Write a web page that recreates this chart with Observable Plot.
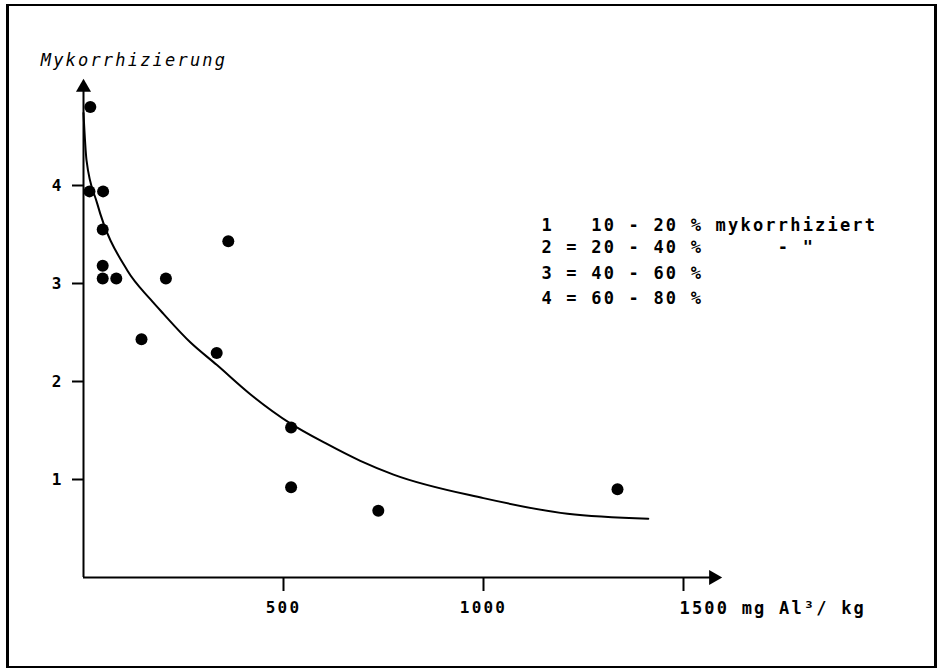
<!DOCTYPE html>
<html><head><meta charset="utf-8">
<script src="https://cdn.jsdelivr.net/npm/d3@7"></script>
<script src="https://cdn.jsdelivr.net/npm/@observablehq/plot@0.6"></script>
<style>
html,body{margin:0;padding:0;background:#fff;}
#wrap{position:relative;width:940px;height:669px;}
#frame{position:absolute;left:6px;top:4px;width:925px;height:660px;border-left:3px solid #000;border-top:2px solid #000;border-right:3px solid #000;border-bottom:2px solid #000;pointer-events:none;box-sizing:content-box;}
svg text{white-space:pre;letter-spacing:2.2px;}
</style></head><body>
<div id="wrap"><div id="frame"></div></div>
<script>
// Measured points: Al content (mg/kg) vs. Mykorrhizierung class
const alContent = [17, 15, 49, 48, 48, 48, 82, 206, 362, 333, 145, 519, 519, 737, 1335];
const mycorrhiza = [4.80, 3.94, 3.94, 3.55, 3.18, 3.05, 3.05, 3.05, 3.43, 2.29, 2.43, 1.53, 0.92, 0.68, 0.90];

// Fitted curve
const curveX = [0, 7.5, 34, 110, 167, 200, 267, 333, 417, 518, 605, 692, 775, 1000, 1210, 1412];
const curveY = [4.74, 4.26, 3.82, 3.13, 2.84, 2.69, 2.40, 2.17, 1.87, 1.57, 1.37, 1.19, 1.05, 0.81, 0.65, 0.60];

const yTicks = [1, 2, 3, 4];
const xTicks = [500, 1000, 1500];
const yLabel = "Mykorrhizierung";
const xUnit = "1500 mg Al³/ kg";
const legendLines = [
  "1   10 - 20 % mykorrhiziert",
  "2 = 20 - 40 %      - \"",
  "3 = 40 - 60 %",
  "4 = 60 - 80 %"
];

const points = alContent.map((x, i) => ({x, y: mycorrhiza[i]}));
const curve = curveX.map((x, i) => ({x, y: curveY[i]}));
const legendYs = [3.59, 3.37, 3.10, 2.85];
const legend = legendLines.map((t, i) => ({t, y: legendYs[i]}));

const chart = Plot.plot({
  width: 940,
  height: 669,
  marginLeft: 83,
  marginRight: 217,
  marginTop: 87,
  marginBottom: 92,
  x: {domain: [0, 1600]},
  y: {domain: [0, 5]},
  style: {fontFamily: "'DejaVu Sans Mono', monospace", background: "white", color: "black"},
  marks: [
    Plot.axisY(yTicks, {tickSize: 11, tickPadding: 9, fontSize: 16, fontWeight: "bold", label: null, strokeWidth: 2,
      tickFormat: d => String(d)}),
    Plot.axisX(xTicks, {tickSize: 14, tickPadding: 10, fontSize: 16, fontWeight: "bold", label: null, strokeWidth: 2,
      tickFormat: d => d === 1500 ? "" : String(d)}),
    Plot.ruleY([0], {x1: 0, x2: 1575, strokeWidth: 2}),
    Plot.ruleX([0], {y1: 0, y2: 5.0, strokeWidth: 2}),
    Plot.dot([{x: 0, y: 5.0}], {x: "x", y: "y", symbol: "triangle", r: 5.6, fill: "black", stroke: "none"}),
    Plot.dot([{x: 1575, y: 0}], {x: "x", y: "y", symbol: "triangle", r: 5.6, fill: "black", stroke: "none", rotate: 90}),
    Plot.line(curve, {x: "x", y: "y", curve: "monotone-x", strokeWidth: 2, stroke: "black"}),
    Plot.dot(points, {x: "x", y: "y", r: 6, fill: "black", stroke: "none"}),
    Plot.text([xUnit], {x: 1500, y: 0, dy: 31, dx: -4, text: d => d, textAnchor: "start", lineAnchor: "middle",
      fontSize: 17, fontWeight: "bold"}),
    Plot.text([yLabel], {x: -107, y: 5.27, text: d => d, textAnchor: "start", lineAnchor: "middle",
      fontSize: 17, fontStyle: "italic"}),
    Plot.text(legend, {x: 1145, y: "y", text: "t", textAnchor: "start", lineAnchor: "middle",
      fontSize: 17, fontWeight: "bold"})
  ]
});
document.getElementById("wrap").prepend(chart);
chart.style.position = "absolute";
chart.style.left = "0";
chart.style.top = "0";
</script>
</body></html>
